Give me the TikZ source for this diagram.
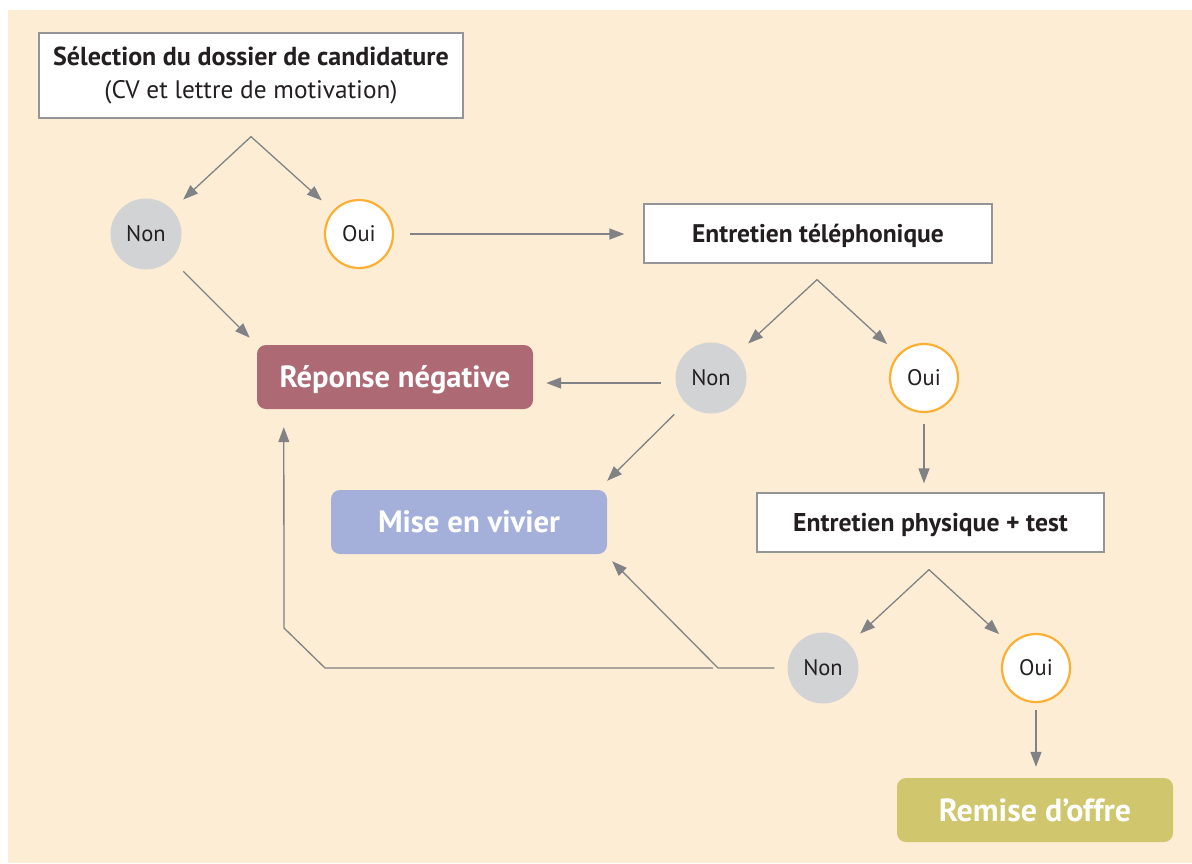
\documentclass[tikz,border=0pt]{standalone}
\usepackage{fontspec}
\setmainfont{PT Sans}
\usetikzlibrary{arrows.meta,calc}
\definecolor{bgc}{HTML}{FEEDD5}
\definecolor{boxline}{HTML}{939598}
\definecolor{arrgray}{HTML}{808285}
\definecolor{nongray}{HTML}{D1D3D4}
\definecolor{ouiorange}{HTML}{FBB034}
\definecolor{txtdark}{HTML}{231F20}
\definecolor{repcol}{HTML}{AD6A74}
\definecolor{misecol}{HTML}{A4B0DA}
\definecolor{remcol}{HTML}{CFC66D}
\tikzset{
  wbox/.style={draw=boxline, line width=1.3pt, fill=white, inner sep=0pt, text=txtdark, align=center},
  nonc/.style={circle, fill=nongray, minimum size=71pt, inner sep=0pt, text=txtdark, text height=15.75pt, text depth=0pt, font=\fontsize{22.5}{26}\selectfont},
  ouic/.style={circle, draw=ouiorange, line width=2.2pt, fill=white, minimum size=68pt, inner sep=0pt, text=txtdark, text height=15.75pt, text depth=0pt, font=\fontsize{22.5}{26}\selectfont},
  cbox/.style={rounded corners=9pt, minimum width=276pt, minimum height=64pt, inner sep=0pt, text=white, text depth=0pt},
  arr/.style={draw=arrgray, line width=1.3pt, -{Triangle[length=15pt,width=11pt]}},
  ln/.style={draw=arrgray, line width=1.3pt}
}
\begin{document}
\begin{tikzpicture}[x=1pt,y=-1pt]
\useasboundingbox (0,0) rectangle (1192,863);
\fill[bgc] (8,10) rectangle (1192,863);

% boxes
\node[wbox, minimum width=424pt, minimum height=85pt, font=\fontsize{25.5}{33}\selectfont] (b1) at (251,75.5)
  {{\fontsize{26}{33}\selectfont\bfseries Sélection du dossier de candidature}\\
   {\fontsize{25.3}{33}\selectfont (CV et lettre de motivation)}};
\node[wbox, text height=17.9pt, text depth=0pt, minimum width=348pt, minimum height=59pt, font=\fontsize{25.5}{29}\selectfont\bfseries] (b2) at (818,233.5) {Entretien téléphonique};
\node[wbox, text height=18pt, text depth=0pt, minimum width=347pt, minimum height=59pt, font=\fontsize{25.7}{29}\selectfont\bfseries] (b3) at (930.5,522.5) {Entretien physique + test};

% circles
\node[nonc] (non1) at (146,234) {Non};
\node[ouic] (oui1) at (359,234) {Oui};
\node[nonc] (non2) at (711,378) {Non};
\node[ouic] (oui2) at (924,378) {Oui};
\node[nonc] (non3) at (823,668) {Non};
\node[ouic] (oui3) at (1036,668) {Oui};

% coloured results
\node[cbox, text height=21.4pt, fill=repcol, font=\fontsize{30.6}{34}\selectfont\bfseries] (rep) at (395,377) {Réponse négative};
\node[cbox, text height=21.6pt, fill=misecol, font=\fontsize{30.8}{34}\selectfont\bfseries] (mise) at (469,522) {Mise en vivier};
\node[cbox, text height=22.4pt, fill=remcol, font=\fontsize{32}{34}\selectfont\bfseries] (rem) at (1035,810) {Remise d’offre};

% fork apexes
\coordinate (f1) at ($(b1.south)+(0,18)$);
\coordinate (f2) at ($(b2.south)+(-1,16)$);
\coordinate (f3) at ($(b3.south)+(-1.5,17)$);

\draw[arr, shorten >=15pt] (f1) -- (non1);
\draw[arr, shorten >=15pt] (f1) -- (oui1);
\draw[arr, shorten >=15pt] (f2) -- (non2);
\draw[arr, shorten >=15pt] (f2) -- (oui2);
\draw[arr, shorten >=15pt] (f3) -- (non3);
\draw[arr, shorten >=15pt] (f3) -- (oui3);

% Oui1 -> Entretien telephonique
\draw[arr, shorten <=16pt, shorten >=19pt] (oui1.east) -- (oui1.east -| b2.west);
% Non1 -> Reponse
\draw[arr, shorten <=17pt, shorten >=10pt] (non1) -- (rep.north west);
% Non2 -> Reponse
\draw[arr, shorten <=14pt, shorten >=13pt] ([yshift=-5pt]non2.west) -- ([yshift=-5pt]non2.west -| rep.east);
% Non2 -> Mise
\coordinate (mtip1) at ($(mise.north east)+(0,-9)$);
\draw[arr, shorten <=16pt] (non2) -- (mtip1);
% Oui2 -> Entretien physique
\draw[arr, shorten <=11pt, shorten >=9pt] (oui2.south) -- (oui2.south |- b3.north);
% Oui3 -> Remise
\draw[arr, shorten <=7pt, shorten >=11pt] (oui3.south) -- (oui3.south |- rem.north);
% Non3 -> Mise
\coordinate (j3) at (718,668);
\coordinate (mtip2) at ($(mise.south east)+(5,7)$);
\draw[arr, shorten <=13pt] (non3.west) -- (j3) -- (mtip2);
% Non3 -> Reponse (long way)
\coordinate (k1) at (713,668);
\coordinate (k2) at (325,668);
\coordinate (k3) at (284,628);
\coordinate (rtip) at ($(rep.south west)+(27,18)$);
\draw[arr] (k1) -- (k2) -- (k3) -- (rtip);
\end{tikzpicture}
\end{document}
